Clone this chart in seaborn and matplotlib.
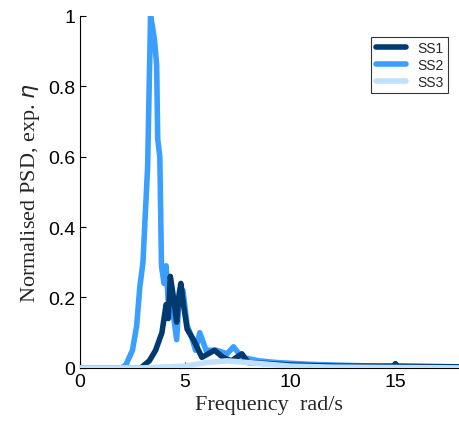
import numpy as np
import matplotlib.pyplot as plt
import seaborn as sns

sns.set_style("ticks")

# SS1 (dark)
f1 = [0, 2.9, 3.3, 3.6, 3.9, 4.1, 4.2, 4.3, 4.45, 4.6, 4.7, 4.8, 4.95, 5.1, 5.4, 5.8, 6.1, 6.4, 6.8, 7.2, 7.7, 8.0, 9, 10, 12, 14.9, 15.0, 15.1, 18]
s1 = [0, 0, 0.02, 0.05, 0.1, 0.18, 0.14, 0.26, 0.2, 0.13, 0.2, 0.24, 0.17, 0.11, 0.08, 0.03, 0.04, 0.05, 0.03, 0.02, 0.04, 0.015, 0.012, 0.008, 0.005, 0.005, 0.012, 0.005, 0.003]
# SS2 (mid blue)
f2 = [0, 2.0, 2.2, 2.5, 2.7, 2.85, 3.0, 3.08, 3.22, 3.36, 3.45, 3.55, 3.65, 3.7, 3.8, 3.88, 4.0, 4.1, 4.2, 4.4, 4.6, 4.74, 4.9, 5.1, 5.3, 5.5, 5.7, 6.0, 6.5, 7.0, 7.3, 7.7, 8.5, 9.4, 11, 14, 18]
s2 = [0, 0, 0.01, 0.05, 0.12, 0.23, 0.3, 0.4, 0.57, 1.0, 0.97, 0.93, 0.86, 0.65, 0.6, 0.29, 0.24, 0.29, 0.19, 0.17, 0.08, 0.22, 0.22, 0.12, 0.09, 0.05, 0.1, 0.05, 0.05, 0.04, 0.06, 0.03, 0.02, 0.015, 0.01, 0.005, 0.002]
# SS3 (light)
f3 = [0, 3, 5, 6, 7, 8, 9, 10, 12, 18]
s3 = [0, 0, 0.005, 0.015, 0.02, 0.015, 0.01, 0.005, 0.002, 0]

fig, ax = plt.subplots(figsize=(4.59, 4.35), dpi=100)
fig.subplots_adjust(left=0.174, right=0.999, bottom=0.152, top=0.961)

sns.lineplot(x=f1, y=s1, ax=ax, color='#003a70', lw=4, label='SS1', zorder=3)
sns.lineplot(x=f2, y=s2, ax=ax, color='#3a9fff', lw=4, label='SS2', zorder=2)
sns.lineplot(x=f3, y=s3, ax=ax, color='#c0e0ff', lw=4, label='SS3', zorder=4)

ax.set_xlim(0, 18)
ax.set_ylim(0, 1)
ax.set_xticks([0, 5, 10, 15])
ax.set_yticks([0, 0.2, 0.4, 0.6, 0.8, 1])
ax.set_yticklabels(['0', '0.2', '0.4', '0.6', '0.8', '1'])
ax.tick_params(direction='in', labelsize=14, length=4, colors='black')
for t in ax.get_xticklabels() + ax.get_yticklabels():
    t.set_family('Liberation Sans')
sns.despine(ax=ax)
for s in ['left', 'bottom']:
    ax.spines[s].set_color('black')
ax.set_xlabel('Frequency  rad/s', family='Liberation Serif', fontsize=16)
ax.set_ylabel(r'Normalised PSD, exp. $\eta$', family='Liberation Serif', fontsize=16)

leg = ax.legend(loc='upper right', bbox_to_anchor=(0.99, 0.96), frameon=True, fancybox=False,
                edgecolor='black', prop={'family': 'Liberation Sans', 'size': 10},
                handlelength=2.2, borderpad=0.3, labelspacing=0.2)
leg.get_frame().set_linewidth(0.8)

plt.savefig('out.png')
